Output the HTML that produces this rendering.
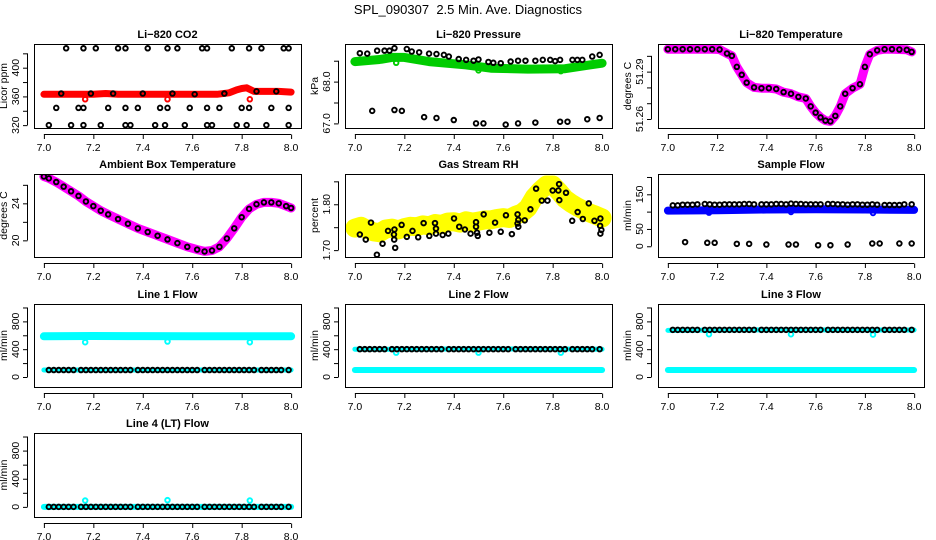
<!DOCTYPE html>
<html><head><meta charset="utf-8">
<style>
html,body{margin:0;padding:0;background:#fff;}
svg{display:block;font-family:"Liberation Sans",Arial,sans-serif;}
</style></head>
<body>
<svg id="chart" width="936" height="540" viewBox="0 0 936 540">
<text x="468" y="14" text-anchor="middle" font-size="13" style="white-space:pre">SPL_090307  2.5 Min. Ave. Diagnostics</text>
</svg>
<script>
// ---- data ----
const xTicks = [7.0,7.2,7.4,7.6,7.8,8.0];
const xTickLabels = ["7.0","7.2","7.4","7.6","7.8","8.0"];
const blackX = [7.02,7.04,7.06,7.08,7.10,7.12,7.15,7.17,7.19,7.21,7.23,7.25,7.27,7.29,7.31,7.33,7.35,7.38,7.40,7.42,7.44,7.46,7.48,7.50,7.52,7.54,7.56,7.58,7.60,7.62,7.65,7.67,7.69,7.71,7.73,7.75,7.77,7.79,7.81,7.83,7.85,7.88,7.90,7.92,7.94,7.96,7.99];
const outlierX = [7.167,7.5,7.833];

// CO2
const co2BandX = [7.0,7.1,7.2,7.25,7.3,7.4,7.5,7.6,7.7,7.75,7.78,7.8,7.82,7.85,7.9,7.95,8.0];
const co2BandY = [363,363,363,364,363,363,363,363,363,365,369,371,372,367,367,367,366];
const co2OutY = [356,356,356];
const co2BlackX = [7.09,7.16,7.21,7.30,7.33,7.42,7.50,7.54,7.64,7.66,7.76,7.83,7.88,7.97,7.99,
 7.07,7.19,7.28,7.40,7.52,7.61,7.73,7.86,7.94,
 7.05,7.14,7.16,7.26,7.33,7.38,7.47,7.50,7.59,7.66,7.71,7.80,7.83,7.92,7.99,
 7.02,7.11,7.16,7.23,7.33,7.35,7.45,7.49,7.57,7.66,7.68,7.78,7.82,7.90,7.99];
const co2BlackY = [427,427,427,427,427,427,427,427,427,427,427,427,427,427,427,
 364,364,364,364,364,363,364,367,367,
 344,344,344,344,344,344,344,344,344,344,344,344,344,344,344,
 320,320,320,320,320,320,320,320,320,320,320,320,320,320,320];

// Pressure
const presBandX = [7.0,7.1,7.15,7.2,7.3,7.45,7.55,7.7,7.85,7.95,8.0];
const presBandY = [68.48,68.53,68.58,68.58,68.48,68.40,68.32,68.30,68.31,68.40,68.44];
const presOutY = [68.45,68.27,68.25];
const presBlackX = [7.02,7.05,7.09,7.12,7.14,7.16,7.21,7.23,7.26,7.30,7.33,7.36,7.38,7.42,7.45,7.48,7.50,7.54,7.56,7.59,7.63,7.66,7.69,7.73,7.76,7.79,7.81,7.83,7.88,7.90,7.92,7.96,7.99,
 7.07,7.16,7.19,7.28,7.33,7.40,7.49,7.52,7.61,7.66,7.73,7.83,7.86,7.94,7.99];
const presBlackY = [68.68,68.67,68.74,68.74,68.74,68.80,68.78,68.72,68.70,68.67,68.66,68.64,68.60,68.54,68.52,68.50,68.53,68.47,68.45,68.44,68.48,68.50,68.50,68.50,68.52,68.52,68.49,68.52,68.52,68.52,68.52,68.60,68.64,
 67.30,67.32,67.30,67.15,67.13,67.08,67.00,67.00,66.97,67.00,67.02,67.04,67.04,67.10,67.13];

// Li-820 temperature
const tempX = [7.0,7.03,7.06,7.09,7.12,7.15,7.18,7.21,7.24,7.26,7.28,7.30,7.32,7.35,7.38,7.41,7.44,7.47,7.50,7.53,7.56,7.58,7.60,7.62,7.64,7.66,7.68,7.70,7.72,7.75,7.78,7.80,7.82,7.85,7.88,7.91,7.94,7.97,7.99];
const tempY = [51.3042,51.3042,51.3042,51.3042,51.3042,51.3042,51.3042,51.3040,51.3015,51.3000,51.2930,51.2880,51.2830,51.2800,51.2795,51.2795,51.2790,51.2770,51.2760,51.2740,51.2730,51.2680,51.2640,51.2610,51.2590,51.2585,51.2620,51.2680,51.2760,51.2795,51.2820,51.2930,51.3010,51.3035,51.3042,51.3042,51.3040,51.3038,51.3025];

// Ambient temperature
const ambX = [7.0,7.02,7.05,7.08,7.11,7.14,7.17,7.2,7.23,7.26,7.3,7.34,7.38,7.42,7.46,7.5,7.54,7.58,7.62,7.65,7.68,7.71,7.74,7.77,7.8,7.83,7.86,7.89,7.92,7.95,7.98,8.0];
const ambY = [26.9,26.7,26.3,25.8,25.3,24.8,24.2,23.7,23.2,22.8,22.3,21.8,21.3,20.9,20.5,20.1,19.7,19.3,19.0,18.8,18.9,19.3,20.2,21.3,22.5,23.4,23.9,24.1,24.1,24.0,23.7,23.5];

// Gas stream RH
const rhBandX = [7.0,7.025,7.05,7.075,7.1,7.125,7.15,7.175,7.2,7.225,7.25,7.275,7.3,7.325,7.35,7.375,7.4,7.425,7.45,7.475,7.5,7.525,7.55,7.575,7.6,7.625,7.65,7.675,7.7,7.725,7.75,7.775,7.8,7.825,7.85,7.875,7.9,7.925,7.95,7.975,8.0];
const rhBandY = [1.748,1.752,1.745,1.740,1.738,1.746,1.748,1.744,1.749,1.752,1.751,1.755,1.753,1.758,1.756,1.761,1.762,1.759,1.764,1.761,1.763,1.766,1.766,1.769,1.771,1.769,1.776,1.781,1.792,1.815,1.830,1.842,1.842,1.828,1.812,1.802,1.794,1.787,1.781,1.776,1.770];
const rhBlackX = [7.020,7.044,7.065,7.089,7.112,7.134,7.158,7.160,7.159,7.163,7.189,7.21,7.233,7.256,7.278,7.301,7.324,7.328,7.328,7.355,7.378,7.401,7.422,7.445,7.468,7.49,7.49,7.494,7.497,7.521,7.544,7.567,7.59,7.611,7.635,7.658,7.658,7.661,7.661,7.687,7.71,7.733,7.756,7.779,7.8,7.823,7.826,7.827,7.854,7.879,7.901,7.922,7.946,7.969,7.993,7.992,7.997,7.993];
const rhBlackY = [1.734,1.723,1.760,1.690,1.714,1.742,1.734,1.745,1.723,1.705,1.755,1.729,1.742,1.728,1.759,1.731,1.759,1.747,1.736,1.733,1.736,1.769,1.751,1.745,1.736,1.761,1.751,1.738,1.731,1.778,1.738,1.760,1.740,1.776,1.735,1.778,1.758,1.766,1.751,1.765,1.789,1.834,1.808,1.808,1.830,1.830,1.844,1.809,1.825,1.764,1.783,1.768,1.802,1.764,1.769,1.753,1.744,1.736];

// Sample flow
const sfBandX = [7.0,7.2,7.4,7.6,7.8,8.0];
const sfBandY = [103,104,106,107,106,105];
const sfOutY = [97,99,96];
const sfHighY = [118,118,120,120,120,121,122,121,120,120,121,121,121,121,122,122,121,121,121,121,122,122,121,123,122,122,121,121,121,121,122,122,121,121,120,121,121,120,120,121,120,119,119,119,119,121,121];
const sfLowX = [7.07,7.16,7.19,7.28,7.33,7.40,7.49,7.52,7.61,7.66,7.73,7.83,7.86,7.94,7.99];
const sfLowY = [12,10,10,7,7,5,5,5,3,3,5,8,8,8,8];

// Line flows
const l1BandY = [585,590,588,585,587,586];
const l1LowY = [100,100,100,100,100,100];
const l1OutY = [500,510,500];
const l1BlackY = [100];
const l2BandY = [100,100,100,100,100,100];
const l2HighY = [400,400,402,402,402,400];
const l2OutY = [350,350,350];
const l2BlackY = [400];
const l3BandY = [100,100,100,100,100,100];
const l3HighY = [670,675,678,678,676,676];
const l3OutY = [615,615,610];
const l3BlackY = [678];
const l4BandY = [0,0,0,0,0,0];
const l4OutY = [90,95,90];
const l4BlackY = [0];
const flowBandX = [7.0,7.2,7.4,7.6,7.8,8.0];

// ---- drawing ----
const NS = "http://www.w3.org/2000/svg";
const svg = document.getElementById('chart');
function mk(tag, attrs, parent){
  const e = document.createElementNS(NS, tag);
  for (const k in attrs) e.setAttribute(k, attrs[k]);
  (parent||svg).appendChild(e);
  return e;
}
function makePanel(name, box, ylim, yTicks, yLabels, title, ylab){
  const g = mk('g', {});
  
  
  const [x0,y0,x1,y1] = box;
  const xs = v => x0 + (v - 6.96) / 1.08 * (x1 - x0);
  const ys = v => y1 - (v - ylim[0]) / (ylim[1] - ylim[0]) * (y1 - y0);
  const frame = mk('rect', {x:x0+0.5, y:y0+0.5, width:x1-x0, height:y1-y0, fill:'none', stroke:'#000', 'stroke-width':1}, g);
  
  
  const t = mk('text', {x:(x0+x1)/2, y:y0-6, 'text-anchor':'middle', 'font-size':11, 'font-weight':'bold'}, g);
  t.textContent = title;
  
  
  const xa = mk('g', {}, g);
  
  
  mk('line', {x1:xs(xTicks[0]), x2:xs(xTicks[xTicks.length-1]), y1:y1+6.5, y2:y1+6.5, stroke:'#000'}, xa);
  xTicks.forEach((v,i) => {
    mk('line', {x1:xs(v)+0.5, x2:xs(v)+0.5, y1:y1+6.5, y2:y1+11, stroke:'#000'}, xa);
    const l = mk('text', {x:xs(v), y:y1+23, 'text-anchor':'middle', 'font-size':10.5}, xa);
    l.textContent = xTickLabels[i];
    
    
  });
  const ya = mk('g', {}, g);
  
  
  mk('line', {x1:x0-6.5, x2:x0-6.5, y1:ys(yTicks[0]), y2:ys(yTicks[yTicks.length-1]), stroke:'#000'}, ya);
  yTicks.forEach(v => {
    mk('line', {x1:x0-11, x2:x0-6.5, y1:ys(v)+0.5, y2:ys(v)+0.5, stroke:'#000'}, ya);
  });
  yLabels.forEach(v => {
    const yy = ys(parseFloat(v));
    const l = mk('text', {x:x0-15, y:yy, 'text-anchor':'middle', 'font-size':10.5, transform:`rotate(-90 ${x0-15} ${yy})`}, ya);
    l.textContent = v;
    
    
  });
  const yl = mk('text', {x:x0-27, y:(y0+y1)/2, 'text-anchor':'middle', 'font-size':10.5, transform:`rotate(-90 ${x0-27} ${(y0+y1)/2})`}, ya);
  yl.textContent = ylab;
  
  
  const plot = mk('g', {}, g);
  const cp = mk('clipPath', {id:'clip-'+name}, g);
  mk('rect', {x:x0+1, y:y0+1, width:x1-x0-1, height:y1-y0-1}, cp);
  plot.setAttribute('clip-path', `url(#clip-${name})`);
  return {g:plot, xs, ys};
}
function band(p, xsArr, ysArr, color, width, name){
  const pts = xsArr.map((v,i) => p.xs(v).toFixed(1) + ',' + p.ys(ysArr[i]).toFixed(1)).join(' ');
  const pl = mk('polyline', {points:pts, fill:'none', stroke:color, 'stroke-width':width, 'stroke-linejoin':'round', 'stroke-linecap':'round'}, p.g);
  
  
}
function pts(p, xsArr, ysArr, color, name, sw){
  xsArr.forEach((v,i) => {
    const yv = ysArr.length === 1 ? ysArr[0] : ysArr[i];
    const c = mk('circle', {cx:p.xs(v), cy:p.ys(yv), r:2.3, fill:'none', stroke:color, 'stroke-width':sw||1.9}, p.g);
    
    
  });
}

let p = makePanel('co2', [34,44,301,128], [316,433], [320,340,360,380,400,420], ['320','360','400'], 'Li\u2212820 CO2', 'Licor ppm');
band(p, co2BandX, co2BandY, '#ff0000', 7, 'co2-band');
pts(p, outlierX, co2OutY, '#ff0000', 'co2-outlier');
pts(p, co2BlackX, co2BlackY, '#000', 'co2-point');

p = makePanel('pressure', [345,44,612,128], [66.89,68.9], [67,67.5,68,68.5], ['67.0','68.0'], 'Li\u2212820 Pressure', 'kPa');
band(p, presBandX, presBandY, '#00cc00', 9, 'pressure-band');
pts(p, outlierX, presOutY, '#00cc00', 'pressure-outlier');
pts(p, presBlackX, presBlackY, '#000', 'pressure-point');

p = makePanel('li820-temp', [658,44,924,128], [51.2543,51.3075], [51.26,51.27,51.28,51.29,51.30], ['51.26','51.29'], 'Li\u2212820 Temperature', 'degrees C');
band(p, tempX, tempY, '#ff00ff', 9, 'temp-band');
pts(p, tempX, tempY, '#000', 'temp-point');

p = makePanel('ambient', [34,174,301,257], [18.2,27.17], [20,22,24,26], ['20','24'], 'Ambient Box Temperature', 'degrees C');
band(p, ambX, ambY, '#ff00ff', 9, 'ambient-band');
pts(p, ambX, ambY, '#000', 'ambient-point');

p = makePanel('rh', [345,174,612,257], [1.685,1.866], [1.70,1.75,1.80,1.85], ['1.70','1.80'], 'Gas Stream RH', 'percent');
band(p, rhBandX, rhBandY, '#ffff00', 19, 'rh-band');
pts(p, rhBlackX, rhBlackY, '#000', 'rh-point');

p = makePanel('sample-flow', [658,174,924,257], [-31,208.6], [0,50,100,150,200], ['0','50','150'], 'Sample Flow', 'ml/min');
band(p, sfBandX, sfBandY, '#0000ff', 8, 'sample-flow-band');
pts(p, outlierX, sfOutY, '#0000ff', 'sample-flow-outlier');
pts(p, blackX, sfHighY, '#000', 'sample-flow-point');
pts(p, sfLowX, sfLowY, '#000', 'sample-flow-low-point');

const fTicks = [0,200,400,600,800,1000];
const fLabels = ['0','400','800'];
p = makePanel('line1', [34,304,301,387], [-144,1050], fTicks, fLabels, 'Line 1 Flow', 'ml/min');
band(p, flowBandX, l1BandY, '#00ffff', 8, 'line1-band');
band(p, flowBandX, l1LowY, '#00ffff', 5, 'line1-low-band');
pts(p, outlierX, l1OutY, '#00ffff', 'line1-outlier');
pts(p, blackX, l1BlackY, '#000', 'line1-point');

p = makePanel('line2', [345,304,612,387], [-144,1050], fTicks, fLabels, 'Line 2 Flow', 'ml/min');
band(p, flowBandX, l2BandY, '#00ffff', 6, 'line2-band');
band(p, flowBandX, l2HighY, '#00ffff', 5, 'line2-high-band');
pts(p, outlierX, l2OutY, '#00ffff', 'line2-outlier');
pts(p, blackX, l2BlackY, '#000', 'line2-point');

p = makePanel('line3', [658,304,924,387], [-144,1050], fTicks, fLabels, 'Line 3 Flow', 'ml/min');
band(p, flowBandX, l3BandY, '#00ffff', 6, 'line3-band');
band(p, flowBandX, l3HighY, '#00ffff', 5, 'line3-high-band');
pts(p, outlierX, l3OutY, '#00ffff', 'line3-outlier');
pts(p, blackX, l3BlackY, '#000', 'line3-point');

p = makePanel('line4', [34,433,301,517], [-144,1050], fTicks, fLabels, 'Line 4 (LT) Flow', 'ml/min');
band(p, flowBandX, l4BandY, '#00ffff', 6, 'line4-band');
pts(p, outlierX, l4OutY, '#00ffff', 'line4-outlier');
pts(p, blackX, l4BlackY, '#000', 'line4-point');
</script>
</body></html>
